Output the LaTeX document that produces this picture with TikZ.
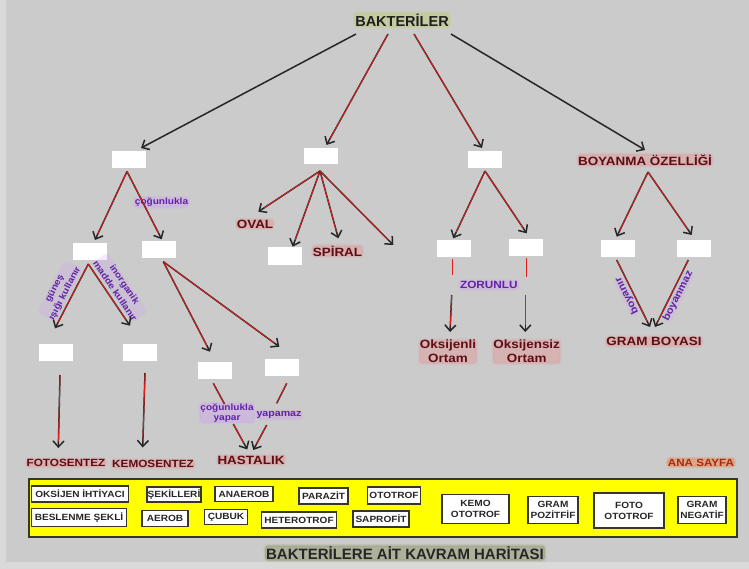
\documentclass[tikz,border=0pt]{standalone}
\usepackage{fontspec}
\setmainfont{Liberation Sans}[FakeStretch=1.12]
\newfontfamily\plainf{Liberation Sans}
\usetikzlibrary{arrows.meta}
\definecolor{bg}{HTML}{CBCBCB}
\definecolor{lbg}{HTML}{D9D9D9}
\definecolor{maroon}{RGB}{95,12,18}
\definecolor{redglow}{RGB}{235,130,130}
\definecolor{purp}{RGB}{95,35,165}
\definecolor{purpglow}{RGB}{210,150,250}
\definecolor{yglow}{RGB}{180,205,70}
\definecolor{oglow}{RGB}{110,125,50}
\definecolor{rust}{RGB}{165,45,10}
\definecolor{rustglow}{RGB}{240,140,60}
\definecolor{arrred}{RGB}{225,30,30}
\definecolor{panelline}{RGB}{55,55,40}
\definecolor{pyellow}{RGB}{255,255,0}
\tikzset{
  glow/.style={rounded corners=3pt,
    preaction={draw=#1, draw opacity=0.12, line width=3pt},
    preaction={fill=#1, fill opacity=0.32}},
  softglow/.style={rounded corners=4pt,
    preaction={fill=#1, fill opacity=0.2}},
  lab/.style={font=\bfseries\fontsize{12}{14}\selectfont, text=maroon, glow=redglow, inner sep=0.5pt, align=center},
  labsm/.style={lab, font=\bfseries\fontsize{10.5}{12}\selectfont},
  plab/.style={font=\bfseries\fontsize{9}{10.5}\selectfont, text=purp, glow=purpglow, inner sep=0.5pt, align=center},
  rlab/.style={font=\bfseries\fontsize{9}{11.5}\selectfont, text=purp, softglow=purpglow, inner sep=0.5pt, align=center},
  wbox/.style={fill=white, minimum width=34pt, minimum height=17pt, inner sep=0pt},
  pbox/.style={fill=white, draw=panelline, line width=1.4pt, inner sep=0pt,
    font=\bfseries\fontsize{9}{11}\selectfont, text=black!85, align=center},
  ar/.style={draw=black!85, line width=1.5pt, -{Straight Barb[length=6pt,width=11pt]}},
  arr/.style={ar, postaction={draw=arrred, line width=0.8pt, shorten >=7pt, arrows=-}},
  ln/.style={draw=black!85, line width=1.5pt, postaction={draw=arrred, line width=0.8pt}},
}
\begin{document}
\begin{tikzpicture}[x=1pt,y=-1pt]
\useasboundingbox (0,0) rectangle (749,569);
\fill[lbg] (0,0) rectangle (749,569);
\fill[bg] (6,0) rectangle (749,562);

% ---------- nodes ----------
\node[font=\plainf\bfseries\fontsize{14.5}{16}\selectfont, text=black!88, glow=yglow, inner sep=1pt] (bak) at (402,20) {BAKTERİLER};

\node[wbox] (b1) at (129,160) {};
\node[wbox, minimum height=16pt] (b2) at (320.5,156) {};
\node[wbox] (b3) at (484.5,159.5) {};
\node[lab] (boy) at (645,160) {BOYANMA ÖZELLİĞİ};

\node[wbox] (b11) at (90,252) {};
\node[wbox] (b12) at (159,250) {};
\node[lab] (oval) at (255,224) {OVAL};
\node[wbox] (b22) at (285,256) {};
\node[lab] (spiral) at (337.5,251) {SPİRAL};
\node[wbox] (b31) at (453.7,248.3) {};
\node[wbox] (b32) at (525.5,247.7) {};
\node[wbox] (b41) at (617.5,248.3) {};
\node[wbox] (b42) at (693.7,248.3) {};

\node[wbox] (b111) at (55.5,352.5) {};
\node[wbox] (b112) at (140,352.5) {};
\node[wbox] (b121) at (215,370) {};
\node[wbox] (b122) at (281.7,367.7) {};
\node[plab, font=\bfseries\fontsize{10.5}{12}\selectfont] (zor) at (488.8,285.2) {ZORUNLU};
\node[lab] (oks1) at (448,351.7) {Oksijenli\\Ortam};
\node[lab] (oks2) at (526.7,351.7) {Oksijensiz\\Ortam};
\node[lab] (gram) at (654,341.7) {GRAM BOYASI};

\node[labsm] (foto) at (66,463) {FOTOSENTEZ};
\node[labsm] (kemo) at (153,464) {KEMOSENTEZ};
\node[plab] (cy) at (227,413) {çoğunlukla\\yapar};
\node[plab, font=\bfseries\fontsize{9.5}{11}\selectfont] (yap) at (279,415) {yapamaz};
\node[lab, font=\bfseries\fontsize{10.4}{12}\selectfont, text=rust, glow=rustglow] (ana) at (701,462.5) {ANA SAYFA};

% rotated / edge labels
\node[plab] (cog) at (161.5,202.5) {çoğunlukla};
\node[rlab, rotate=62.6] (gun) at (60,291) {güneş\\ışığı kullanır};
\node[rlab, rotate=-55.9] (ino) at (120,287.5) {inorganik\\madde kullanır};
\node[rlab, font=\bfseries\fontsize{10}{11}\selectfont, rotate=116.5] (boyr) at (627,296) {boyanır};
\node[rlab, font=\bfseries\fontsize{10}{11}\selectfont, rotate=63.5] (boym) at (678,296) {boyanmaz};
\node[lab] (hast) at (251,460) {HASTALIK};

% ---------- connector end points ----------
\coordinate (s1) at (356,34);  \coordinate (t1) at (141,148);
\coordinate (s2) at (388,34);  \coordinate (t2) at (326.5,145);
\coordinate (s3) at (414,34);  \coordinate (t3) at (482,148);
\coordinate (s4) at (451,34);  \coordinate (t4) at (645,150);

\coordinate (a1) at (127,171.5);
\coordinate (t11) at (95,240);   \coordinate (t12) at (161.7,239.3);
\coordinate (a11) at (88.3,264);
\coordinate (t111) at (55,328.3); \coordinate (t112) at (130,325.7);
\coordinate (a111) at (60,375);   \coordinate (e111) at (58.3,448);
\coordinate (a112) at (145,373);  \coordinate (e112) at (142.7,447.5);
\coordinate (a12) at (163.3,261.7);
\coordinate (t121) at (210,351.7); \coordinate (t122) at (279.3,346.7);
\coordinate (a121) at (213.3,383.3); \coordinate (m121) at (224.5,404);
\coordinate (n121) at (233.3,424);   \coordinate (e121) at (247.3,449.5);
\coordinate (a122) at (286.7,383.3); \coordinate (m122) at (276.7,403.3);
\coordinate (n122) at (266.7,425);   \coordinate (e122) at (253.3,450);

\coordinate (a2) at (320,171);
\coordinate (t21) at (258.3,211.7); \coordinate (t22) at (292.7,246.7);
\coordinate (t23) at (338.3,238.3); \coordinate (t24) at (393.3,245);

\coordinate (a3) at (485,171);
\coordinate (t31) at (453.3,238.3); \coordinate (t32) at (526.7,233.3);
\coordinate (a31) at (452.7,259.5); \coordinate (m31) at (452.7,275);
\coordinate (n31) at (451.7,295);   \coordinate (e31) at (450,332);
\coordinate (a32) at (526.7,258.5); \coordinate (m32) at (526.7,276.7);
\coordinate (n32) at (525.3,295);   \coordinate (e32) at (525.3,332);

\coordinate (a4) at (648,172);
\coordinate (t41) at (616.7,236.7); \coordinate (t42) at (691.7,235);
\coordinate (a41) at (616.7,260);   \coordinate (e41) at (650,327);
\coordinate (a42) at (688.3,260);   \coordinate (e42) at (655,327);

% ---------- connectors ----------
\draw[ar] (s1) -- (t1);
\draw[arr] (s2) -- (t2);
\draw[arr] (s3) -- (t3);
\draw[ar] (s4) -- (t4);

\draw[arr] (a1) -- (t11);
\draw[arr] (a1) -- (t12);
\draw[arr] (a11) -- (t111);
\draw[arr] (a11) -- (t112);
\draw[arr] (a111) -- (e111);
\draw[arr] (a112) -- (e112);
\draw[arr] (a12) -- (t121);
\draw[arr] (a12) -- (t122);
\draw[ln] (a121) -- (m121);
\draw[arr] (n121) -- (e121);
\draw[ln] (a122) -- (m122);
\draw[arr] (n122) -- (e122);

\draw[arr] (a2) -- (t21);
\draw[arr] (a2) -- (t22);
\draw[arr] (a2) -- (t23);
\draw[arr] (a2) -- (t24);

\draw[arr] (a3) -- (t31);
\draw[arr] (a3) -- (t32);
\draw[ln] (a31) -- (m31);
\draw[arr] (n31) -- (e31);
\draw[ln] (a32) -- (m32);
\draw[arr] (n32) -- (e32);

\draw[arr] (a4) -- (t41);
\draw[arr] (a4) -- (t42);
\draw[arr] (a41) -- (e41);
\draw[arr] (a42) -- (e42);

% ---------- panel ----------
\node[fill=pyellow, draw=panelline, line width=2pt, minimum width=708pt, minimum height=58pt, inner sep=0pt] (panel) at (383,508) {};
\node[pbox, minimum width=97pt, minimum height=16pt] (w1) at (80,494) {OKSİJEN İHTİYACI};
\node[pbox, minimum width=54pt, minimum height=15pt] (w2) at (174,494.5) {ŞEKİLLERİ};
\node[pbox, minimum width=58pt, minimum height=15pt] (w3) at (244,494) {ANAEROB};
\node[pbox, minimum width=49pt, minimum height=16pt] (w4) at (323.5,496) {PARAZİT};
\node[pbox, minimum width=53pt, minimum height=17pt] (w5) at (394,495.5) {OTOTROF};
\node[pbox, minimum width=95pt, minimum height=18pt] (w6) at (79,517.5) {BESLENME ŞEKLİ};
\node[pbox, minimum width=46pt, minimum height=16pt] (w7) at (165,518.7) {AEROB};
\node[pbox, minimum width=43pt, minimum height=15pt] (w8) at (226,517) {ÇUBUK};
\node[pbox, minimum width=75pt, minimum height=16pt] (w9) at (299,520) {HETEROTROF};
\node[pbox, minimum width=56pt, minimum height=16pt] (w10) at (381,519) {SAPROFİT};
\node[pbox, minimum width=67pt, minimum height=29pt] (w11) at (475.5,509) {KEMO\\OTOTROF};
\node[pbox, minimum width=50pt, minimum height=27pt] (w12) at (553,510) {GRAM\\POZİTFİF};
\node[pbox, minimum width=70pt, minimum height=35pt] (w13) at (629,510.5) {FOTO\\OTOTROF};
\node[pbox, minimum width=48pt, minimum height=27pt] (w14) at (702,510) {GRAM\\NEGATİF};

\node[font=\plainf\bfseries\fontsize{15}{17}\selectfont, text=black!85, glow=oglow, inner sep=1pt] (title) at (405,553) {BAKTERİLERE AİT KAVRAM HARİTASI};
\end{tikzpicture}
\end{document}
